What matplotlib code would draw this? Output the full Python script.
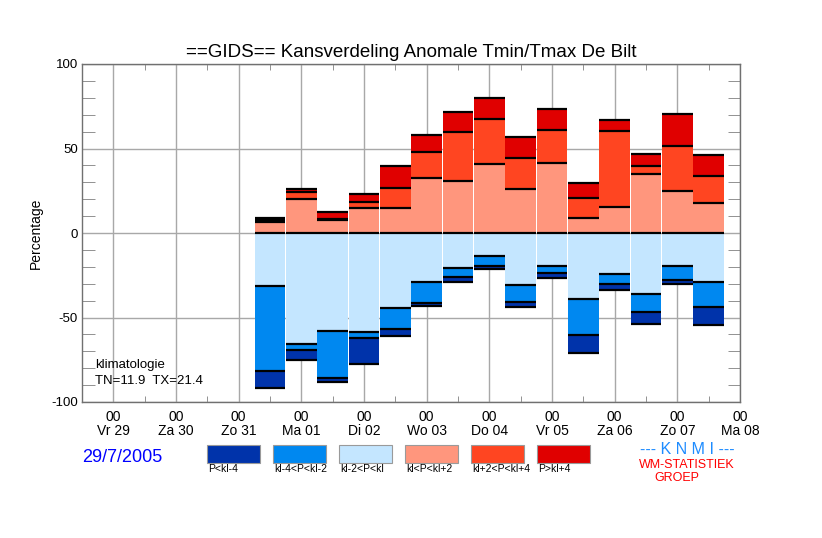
import matplotlib
matplotlib.use("Agg")
import matplotlib.pyplot as plt
from matplotlib.patches import Rectangle
import numpy as np

plt.rcParams['font.family'] = ['Liberation Sans', 'DejaVu Sans']

# ---- data ----
day_labels = ["Vr 29", "Za 30", "Zo 31", "Ma 01", "Di 02", "Wo 03", "Do 04",
              "Vr 05", "Za 06", "Zo 07", "Ma 08"]
# bar times in days after Vr 29 00h (12-hourly)
bar_times = [2.5, 3.0, 3.5, 4.0, 4.5, 5.0, 5.5, 6.0, 6.5, 7.0, 7.5, 8.0, 8.5, 9.0, 9.5]

# probabilities per class (%)
p_lt_m4 = [10.0, 5.8, 2.6, 15.4, 4.1, 1.4, 2.4, 2.0, 2.8, 3.2, 10.7, 3.8, 7.5, 2.3, 10.6]
p_m4_m2 = [50.6, 3.7, 27.8, 3.3, 12.3, 12.3, 5.6, 6.0, 10.5, 3.9, 21.3, 5.7, 10.6, 7.9, 15.2]
p_m2_0 = [31.2, 65.6, 57.9, 58.7, 44.4, 29.2, 20.7, 13.4, 30.6, 19.8, 39.1, 24.3, 36.0, 19.8, 28.7]
p_0_p2 = [6.5, 20.0, 7.8, 14.6, 14.8, 32.4, 31.0, 40.6, 25.8, 41.5, 9.1, 15.6, 34.7, 24.9, 17.5]
p_p2_p4 = [1.0, 4.0, 0.6, 3.8, 11.8, 15.4, 28.8, 26.7, 18.4, 19.5, 11.6, 44.8, 4.8, 26.8, 16.4]
p_gt_p4 = [1.3, 2.0, 4.0, 4.7, 12.8, 10.0, 11.9, 12.3, 12.7, 12.5, 8.9, 6.5, 7.3, 18.8, 12.3]

class_labels = ["P<kl-4", "kl-4<P<kl-2", "kl-2<P<kl", "kl<P<kl+2", "kl+2<P<kl+4", "P>kl+4"]
class_colors = ["#0033aa", "#0088f0", "#c4e6ff", "#ff967d", "#ff4521", "#e00000"]

title = "==GIDS== Kansverdeling Anomale Tmin/Tmax De Bilt"
date_text = "29/7/2005"
clim_text = "klimatologie\nTN=11.9  TX=21.4"

# ---- figure ----
fig = plt.figure(figsize=(8.22, 5.38), dpi=100)
ax = fig.add_axes([82/822, 1-402/538, (740-82)/822, (402-64)/538])

x = np.array(bar_times)
w = 0.485
lt4 = np.array(p_lt_m4); m4 = np.array(p_m4_m2); m2 = np.array(p_m2_0)
p0 = np.array(p_0_p2); p2 = np.array(p_p2_p4); p4 = np.array(p_gt_p4)

ax.set_axisbelow(True)
# positive stack
ax.bar(x, p0, w, bottom=0, color=class_colors[3], zorder=3)
ax.bar(x, p2, w, bottom=p0, color=class_colors[4], zorder=3)
ax.bar(x, p4, w, bottom=p0 + p2, color=class_colors[5], zorder=3)
# negative stack
ax.bar(x, -m2, w, bottom=0, color=class_colors[2], zorder=3)
ax.bar(x, -m4, w, bottom=-m2, color=class_colors[1], zorder=3)
ax.bar(x, -lt4, w, bottom=-(m2 + m4), color=class_colors[0], zorder=3)

bounds = [np.zeros_like(x), p0, p0 + p2, p0 + p2 + p4, -m2, -(m2 + m4), -(m2 + m4 + lt4)]
for b in bounds:
    ax.hlines(b, x - w/2, x + w/2, colors="black", linewidth=1.6, zorder=4)

ax.set_xlim(-0.5, 10)
ax.set_ylim(-100, 100)
ax.set_xticks(range(11))
ax.set_xticklabels(["00\n" + d for d in day_labels], fontsize=10, linespacing=1.0)
ax.set_xticks(np.arange(-0.5, 10, 0.5), minor=True)
ax.set_yticks([-100, -50, 0, 50, 100])
ax.set_yticklabels(["-100", "-50", "0", "50", "100"], fontsize=9.5)
ax.set_yticks(np.arange(-90, 100, 10), minor=True)
ax.tick_params(axis="x", which="major", length=0, pad=6)
ax.tick_params(axis="x", which="minor", direction="in", length=4, color="#808080",
               bottom=True, top=True)
ax.tick_params(axis="y", which="major", length=0, pad=3)
ax.tick_params(axis="y", which="minor", direction="in", length=9, color="#808080",
               left=True, right=True)
ax.grid(True, which="major", color="#a8a8a8", linewidth=1.0)
for s in ax.spines.values():
    s.set_color("#707070")
    s.set_linewidth(1.0)

ax.set_ylabel("Percentage", fontsize=10, labelpad=6)
ax.set_title(title, fontsize=13.5, pad=5)

ax.text(0.02, 0.128, clim_text, transform=ax.transAxes, fontsize=9.5,
        va="top", ha="left", linespacing=1.45, zorder=5)

# ---- legend row ----
fig.text(82/822, 1-458/538, date_text, color="#0000ff", fontsize=13, va="center", ha="left")
for i, (lab, col) in enumerate(zip(class_labels, class_colors)):
    x0 = 207 + 66*i
    fig.patches.append(Rectangle((x0/822, 1-463/538), 53/822, 18/538,
                                 transform=fig.transFigure, facecolor=col,
                                 edgecolor="#9a9a9a", linewidth=0.8))
    fig.text((x0+1)/822, 1-469/538, lab, fontsize=7.5, va="center", ha="left")

fig.text(687/822, 1-450/538, "--- K N M I ---", color="#1e8cff", fontsize=11.5, va="center", ha="center")
fig.text(687/822, 1-465/538, "WM-STATISTIEK", color="#ff0000", fontsize=9, va="center", ha="center")
fig.text(677/822, 1-478/538, "GROEP", color="#ff0000", fontsize=9, va="center", ha="center")

fig.savefig("out.png", dpi=100)
